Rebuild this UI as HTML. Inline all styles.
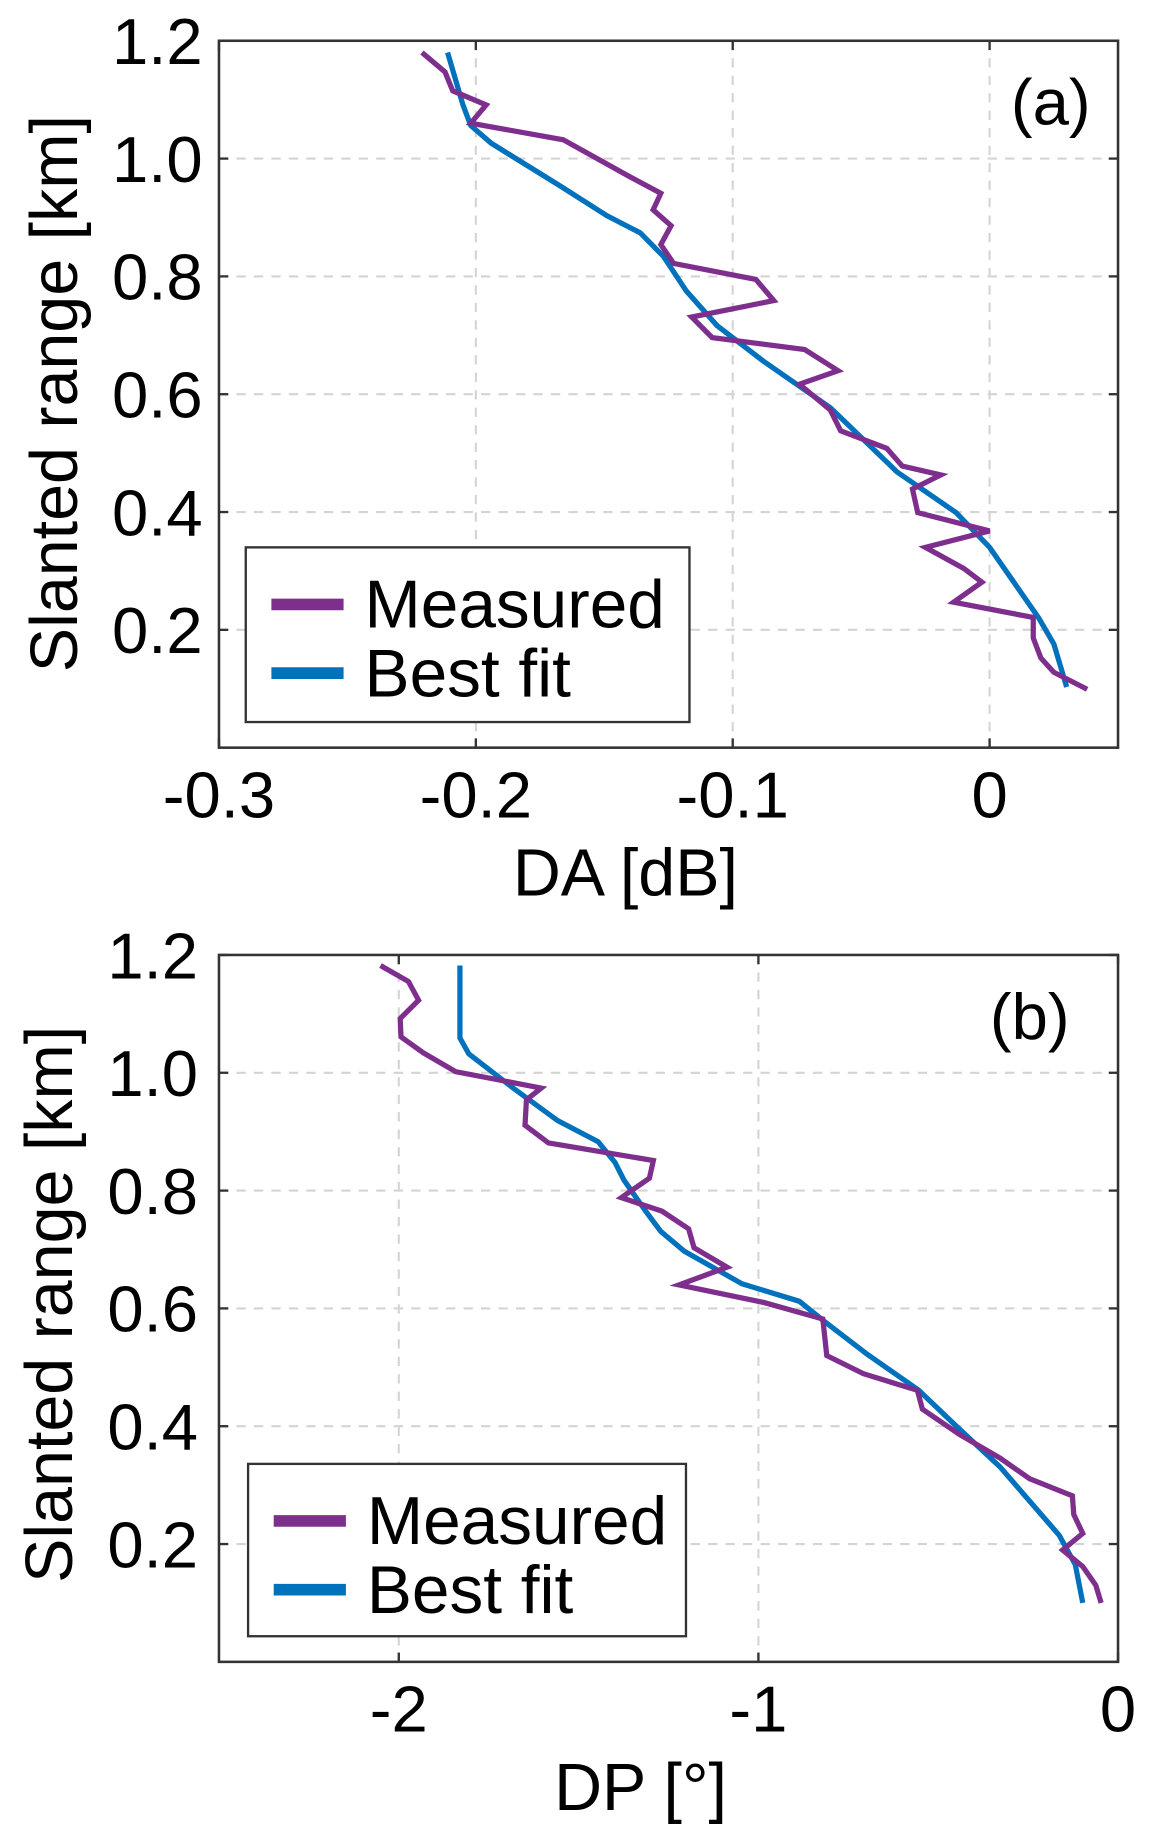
<!DOCTYPE html>
<html><head><meta charset="utf-8"><style>
html,body{margin:0;padding:0;background:#fff;}
svg{display:block;font-family:"Liberation Sans",Arial,sans-serif;}
</style></head><body>
<svg id="fig" width="1153" height="1827" viewBox="0 0 990 1568.8" xmlns="http://www.w3.org/2000/svg"></svg>
<script>
// Panel (a) data
const aMeasX=[-0.221,-0.212,-0.209,-0.196,-0.202,-0.166,-0.140,-0.128,-0.131,-0.124,-0.128,-0.123,-0.091,-0.084,-0.116,-0.108,-0.072,-0.059,-0.074,-0.062,-0.058,-0.040,-0.034,-0.019,-0.030,-0.028,0.000,-0.025,-0.010,-0.003,-0.014,0.017,0.017,0.020,0.025,0.038];
const aMeasY=[1.180,1.147,1.115,1.091,1.060,1.032,0.969,0.941,0.913,0.886,0.854,0.822,0.795,0.759,0.731,0.696,0.676,0.640,0.617,0.573,0.538,0.508,0.478,0.463,0.439,0.399,0.368,0.340,0.304,0.281,0.247,0.221,0.186,0.152,0.128,0.099];
const aFitX=[-0.211,-0.205,-0.202,-0.194,-0.167,-0.149,-0.136,-0.127,-0.118,-0.106,-0.088,-0.062,-0.036,-0.013,0.000,0.019,0.025,0.030];
const aFitY=[1.180,1.091,1.056,1.026,0.953,0.903,0.874,0.834,0.775,0.716,0.656,0.577,0.468,0.399,0.340,0.221,0.176,0.103];
const aXTicks=[-0.3,-0.2,-0.1,0];
const aXTickLabels=["-0.3","-0.2","-0.1","0"];
const yTicks=[0.2,0.4,0.6,0.8,1.0,1.2];
const yTickLabels=["0.2","0.4","0.6","0.8","1.0","1.2"];
// Panel (b) data
const bMeasX=[-2.051,-1.973,-1.945,-1.996,-1.994,-1.932,-1.842,-1.604,-1.645,-1.649,-1.584,-1.292,-1.303,-1.381,-1.268,-1.194,-1.179,-1.087,-1.221,-0.985,-0.821,-0.810,-0.708,-0.558,-0.544,-0.441,-0.328,-0.246,-0.127,-0.123,-0.098,-0.154,-0.098,-0.062,-0.047];
const bMeasY=[1.182,1.155,1.123,1.092,1.061,1.034,1.002,0.974,0.954,0.911,0.881,0.851,0.821,0.788,0.765,0.735,0.703,0.670,0.640,0.610,0.582,0.520,0.489,0.461,0.429,0.386,0.346,0.311,0.282,0.250,0.218,0.190,0.162,0.130,0.100];
const bFitX=[-1.830,-1.830,-1.805,-1.682,-1.559,-1.446,-1.399,-1.374,-1.317,-1.272,-1.206,-1.046,-0.886,-0.821,-0.697,-0.554,-0.451,-0.328,-0.164,-0.119,-0.098];
const bFitY=[1.182,1.059,1.032,0.974,0.919,0.883,0.848,0.818,0.768,0.731,0.697,0.642,0.612,0.580,0.522,0.461,0.401,0.331,0.215,0.165,0.100];
const bXTicks=[-2,-1,0];
const bXTickLabels=["-2","-1","0"];

const NS="http://www.w3.org/2000/svg";
const svg=document.getElementById('fig');
function mk(tag,attrs,parent,text){const e=document.createElementNS(NS,tag);for(const k in attrs)e.setAttribute(k,attrs[k]);if(text!==undefined)e.textContent=text;(parent||svg).appendChild(e);return e;}

function panel(cfg){
  const g=mk('g',{});
  
  
  const L=188,R=960,T=cfg.top,B=cfg.bottom;
  const sx=v=>L+(v-cfg.xmin)/(cfg.xmax-cfg.xmin)*(R-L);
  const sy=v=>B-(v-0)/(1.2-0)*(B-T);
  cfg.xticks.forEach((t,i)=>{
    const x=sx(t);
    if(t!==cfg.xmin&&t!==cfg.xmax){const gl=mk('line',{x1:x,x2:x,y1:T,y2:B,stroke:'#d4d4d4','stroke-width':1.8,'stroke-dasharray':'8,7'},g);
    }
    mk('line',{x1:x,x2:x,y1:B,y2:B-8,stroke:'#333','stroke-width':2},g);
    mk('line',{x1:x,x2:x,y1:T,y2:T+8,stroke:'#333','stroke-width':2},g);
    const tl=mk('text',{x:x,y:B+60,'font-size':56,'text-anchor':'middle',fill:'#000'},g,cfg.xlabels[i]);
    
  });
  yTicks.forEach((t,i)=>{
    const y=sy(t);
    if(t<1.2){const gl=mk('line',{x1:L,x2:R,y1:y,y2:y,stroke:'#d4d4d4','stroke-width':1.8,'stroke-dasharray':'8,7'},g);
    }
    mk('line',{x1:L,x2:L+8,y1:y,y2:y,stroke:'#333','stroke-width':2},g);
    mk('line',{x1:R,x2:R-8,y1:y,y2:y,stroke:'#333','stroke-width':2},g);
    const tl=mk('text',{x:cfg.ylabx,y:y+20,'font-size':56,'text-anchor':'end',fill:'#000'},g,yTickLabels[i]);
    
  });
  const pts=(X,Y)=>X.map((v,i)=>sx(v).toFixed(1)+','+sy(Y[i]).toFixed(1)).join(' ');
  const fit=mk('polyline',{points:pts(cfg.fitX,cfg.fitY),fill:'none',stroke:'#0072bd','stroke-width':4.5,'stroke-linejoin':'round'},g);
  
  const meas=mk('polyline',{points:pts(cfg.measX,cfg.measY),fill:'none',stroke:'#7e2f8e','stroke-width':4.5,'stroke-linejoin':'miter'},g);
  
  const box=mk('rect',{x:L,y:T,width:R-L,height:B-T,fill:'none',stroke:'#333','stroke-width':2.2},g);
  
  const pl=mk('text',{x:cfg.plx,y:T+72,'font-size':56,fill:'#000'},g,cfg.plabel);
  
  const xl=mk('text',{x:cfg.xlx,y:B+127,'font-size':57,'text-anchor':'middle',fill:'#000'},g,cfg.xtitle);
  
  const yl=mk('text',{x:0,y:0,'font-size':57,'text-anchor':'middle',fill:'#000',transform:`translate(${cfg.ytx},${cfg.ytc}) rotate(-90)`},g,'Slanted range [km]');
  
  const lg=mk('g',{},g);
  
  const lx=cfg.leg[0],ly=cfg.leg[1],lw=cfg.leg[2],lh=cfg.leg[3];
  mk('rect',{x:lx,y:ly,width:lw,height:lh,fill:'#fff',stroke:'#333','stroke-width':2},lg);
  const e1=mk('g',{},lg);
  mk('line',{x1:lx+22,x2:lx+84,y1:ly+49,y2:ly+49,stroke:'#7e2f8e','stroke-width':10},e1);
  mk('text',{x:lx+102,y:ly+69,'font-size':58,fill:'#000'},e1,'Measured');
  const e2=mk('g',{},lg);
  mk('line',{x1:lx+22,x2:lx+84,y1:ly+108,y2:ly+108,stroke:'#0072bd','stroke-width':10},e2);
  mk('text',{x:lx+102,y:ly+128,'font-size':58,fill:'#000'},e2,'Best fit');
}
panel({name:'panel-a',top:35,bottom:642,xmin:-0.3,xmax:0.05,xticks:aXTicks,xlabels:aXTickLabels,
  measX:aMeasX,measY:aMeasY,fitX:aFitX,fitY:aFitY,plabel:'(a)',plx:868,xtitle:'DA [dB]',xlx:537,ylabx:174,ytx:66,ytc:338,
  leg:[211,470,381,150]});
panel({name:'panel-b',top:820,bottom:1427,xmin:-2.5,xmax:0,xticks:bXTicks,xlabels:bXTickLabels,
  measX:bMeasX,measY:bMeasY,fitX:bFitX,fitY:bFitY,plabel:'(b)',plx:850,xtitle:'DP [°]',xlx:550,ylabx:170,ytx:62,ytc:1120,
  leg:[213,1257,376,148]});
</script>
</body></html>
